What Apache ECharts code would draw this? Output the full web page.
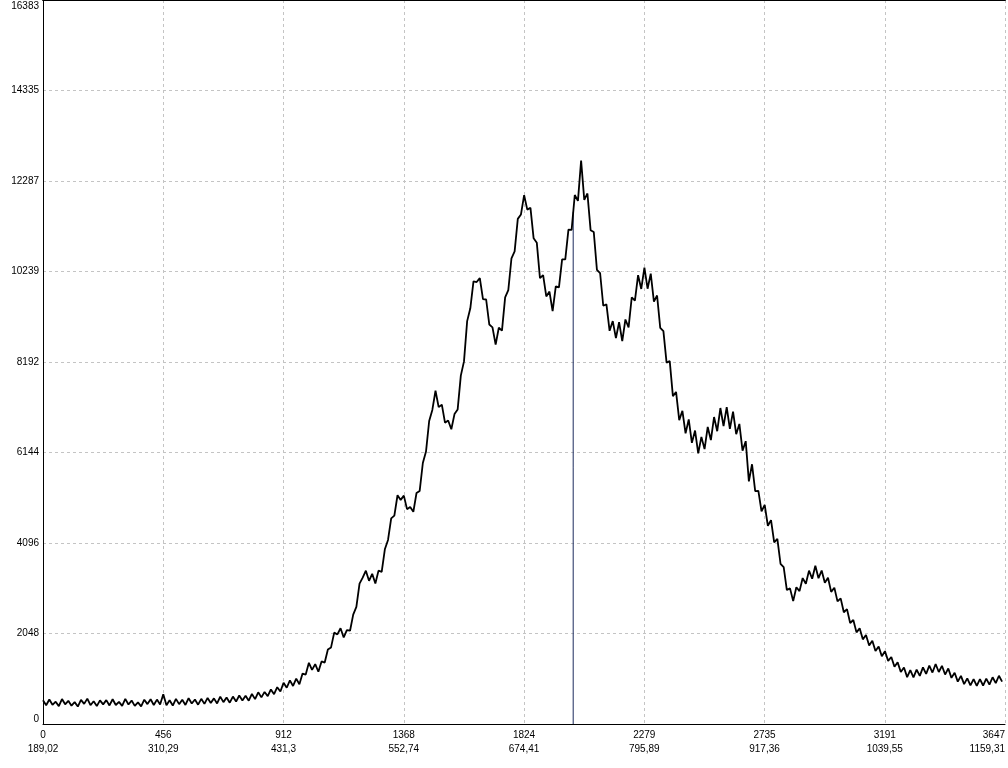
<!DOCTYPE html>
<html><head><meta charset="utf-8">
<script src="https://cdn.jsdelivr.net/npm/echarts@6/dist/echarts.min.js"></script>
<style>html,body{margin:0;padding:0;background:#fff;overflow:hidden}#c{width:1008px;height:768px}</style>
</head><body><div id="c"></div>
<script>
// spectrum counts, one sample every 12 channels starting at channel 0
const channelStep = 12;
const counts = [
535,425,555,435,505,405,565,445,525,415,
495,395,545,455,575,425,515,405,535,445,
540,420,560,430,500,410,570,440,530,410,
490,400,550,450,560,430,552,443,674,425,
536,417,568,449,550,431,583,464,555,437,
570,455,590,475,580,465,620,495,600,483,
620,507,645,532,640,527,680,563,717,602,
726,630,783,676,832,736,935,820,987,861,
1026,899,1142,1118,1384,1225,1354,1182,1416,1390,
1684,1733,2067,2026,2167,1958,2126,2111,2476,2651,
3175,3311,3470,3240,3399,3178,3471,3444,3954,4165,
4653,4716,5176,5071,5168,4862,4912,4801,5227,5275,
5906,6165,6857,7107,7541,7170,7226,6819,6869,6670,
7013,7119,7882,8205,9116,9406,10018,10001,10090,9614,
9606,9039,8976,8584,8966,8901,9652,9819,10539,10696,
11430,11531,11966,11640,11681,10990,10891,10089,10158,9676,
9786,9343,9903,9882,10513,10512,11186,11180,11970,11838,
12750,11860,12005,11175,11133,10277,10205,9465,9495,8897,
9118,8731,9092,8663,9154,8973,9656,9582,10155,9845,
10325,9850,10190,9558,9697,8964,8890,8177,8210,7420,
7514,6877,7088,6576,6894,6361,6641,6123,6497,6220,
6721,6424,6947,6626,7150,6740,7170,6678,7070,6559,
6790,6184,6400,5490,5878,5268,5277,4812,4957,4486,
4613,4109,4191,3626,3550,3031,3069,2781,3095,3006,
3302,3173,3471,3286,3582,3300,3473,3195,3309,2990,
3085,2775,2842,2529,2599,2286,2353,2073,2165,1915,
2012,1777,1883,1650,1753,1535,1648,1428,1515,1294,
1395,1177,1279,1061,1218,1055,1232,1089,1280,1132,
1320,1164,1358,1176,1317,1119,1257,1044,1160,958,
1090,901,1032,873,1017,860,1014,871,1027,891,
1058,925,1092,959
];
const xTickChannels = ['0','456','912','1368','1824','2279','2735','3191','3647'];
const xTickEnergies = ['189,02','310,29','431,3','552,74','674,41','795,89','917,36','1039,55','1159,31'];
const yTickLabels = ['0','2048','4096','6144','8192','10239','12287','14335','16383'];
const xMax = 3647;
const yMax = 16383;
const cursorChannel = 2010;
const cursorCount = 11590;

const xInterval = xMax / 8;
const yInterval = yMax / 8;
const seriesData = counts.map((v, i) => [i * channelStep, v]);

const chart = echarts.init(document.getElementById('c'), null, {renderer: 'canvas', width: 1008, height: 768});
const FONT = 'Liberation Sans, Arial, sans-serif';
const gridLine = {show: true, lineStyle: {color: '#c4c4c4', type: [3, 3], width: 1}};
chart.setOption({
  animation: false,
  backgroundColor: '#fff',
  grid: {left: 43, width: 965, top: 0, height: 724, show: false},
  xAxis: [{
    type: 'value', min: 0, max: xMax, interval: xInterval,
    axisLine: {show: true, lineStyle: {color: '#000', width: 1}},
    axisTick: {show: false},
    splitLine: gridLine,
    axisLabel: {
      margin: 4, color: '#000', fontFamily: FONT, fontSize: 10, lineHeight: 14,
      alignMaxLabel: 'right',
      formatter: function (v) {
        const k = Math.round(v / xInterval);
        return xTickChannels[k] + '\n' + xTickEnergies[k];
      }
    }
  }, {
    type: 'value', position: 'top', min: 0, max: xMax,
    axisLine: {show: true, lineStyle: {color: '#000', width: 2}},
    axisTick: {show: false}, axisLabel: {show: false}, splitLine: {show: false}
  }],
  yAxis: {
    type: 'value', min: 0, max: yMax, interval: yInterval,
    axisLine: {show: true, lineStyle: {color: '#000', width: 1}},
    axisTick: {show: false},
    splitLine: gridLine,
    axisLabel: {
      margin: 4, color: '#000', fontFamily: FONT, fontSize: 10,
      formatter: function (v) {
        const k = Math.round(v / yInterval);
        if (k === 0) return '{lo|' + yTickLabels[k] + '}';
        if (k === 8) return '{hi|' + yTickLabels[k] + '}';
        return yTickLabels[k];
      },
      rich: {
        lo: {padding: [0, 0, 9, 0], fontSize: 10, fontFamily: FONT, color: '#000'},
        hi: {padding: [12, 0, 0, 0], fontSize: 10, fontFamily: FONT, color: '#000'}
      }
    }
  },
  series: [
    {
      type: 'line', data: [[cursorChannel, 0], [cursorChannel, cursorCount]],
      symbol: 'none', lineStyle: {color: '#1c2a5e', width: 1}, z: 1, silent: true
    },
    {
      type: 'line', data: seriesData, symbol: 'none', sampling: null,
      lineStyle: {color: '#000', width: 1.8}, z: 2, silent: true
    }
  ]
});
</script>
</body></html>
